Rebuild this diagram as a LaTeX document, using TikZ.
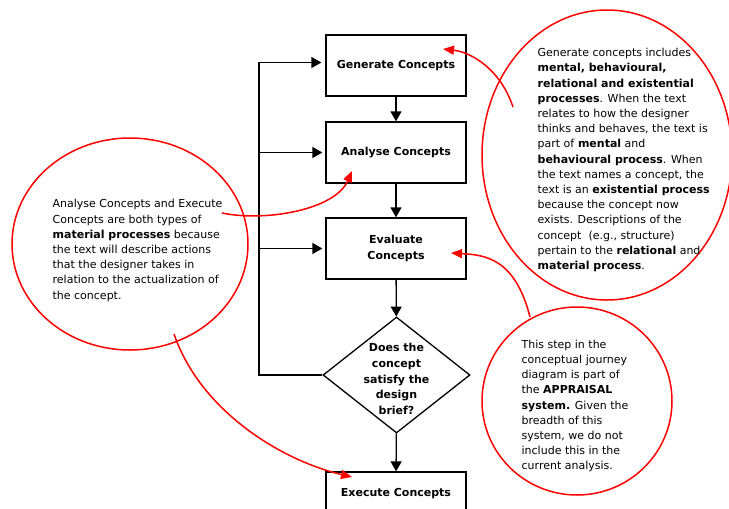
\documentclass[tikz,border=0pt]{standalone}
\usepackage{fontspec}
\setmainfont{DejaVu Sans}
\usetikzlibrary{shapes.geometric,arrows.meta}
\tikzset{
  stepbox/.style={draw, minimum width=140pt, minimum height=61pt, inner sep=0pt,
    align=center, font=\fontsize{11}{16}\selectfont\bfseries},
  note/.style={draw=red, line width=1.5pt, ellipse, inner sep=0pt},
  notetext/.style={align=left, inner sep=0pt, anchor=west,
    font=\fontsize{11}{15.2}\selectfont},
  pointer/.style={red, line width=1.5pt, -{Triangle[length=11pt,width=9pt]}},
}
\begin{document}
\begin{tikzpicture}[x=1pt, y=-1pt, >={Triangle[length=10pt,width=11pt]}, line width=1.3pt]
\useasboundingbox (0,0) rectangle (729,509);
\clip (0,0) rectangle (729,509);
% flow chart
\node[stepbox] (gen) at (396,65.5) {Generate Concepts};
\node[stepbox] (ana) at (396,152.5) {Analyse Concepts};
\node[stepbox] (eva) at (396,248.5) {Evaluate\\Concepts};
\node[draw, diamond, minimum width=147pt, minimum height=116pt, inner sep=0pt] (dec) at (396.5,375) {};
\node[align=center, inner sep=0pt, font=\fontsize{11}{15.6}\selectfont\bfseries] (dectext) at (396.5,379) {Does the\\concept\\satisfy the\\design\\brief?};
\node[stepbox, minimum height=44pt] (exe) at (396,494) {Execute Concepts};
\draw[->] (gen) -- (ana);
\draw[->] (ana) -- (eva);
\draw[->] (eva) -- (dec);
\draw[->] (dec) -- (exe);
% loop back
\coordinate (back) at (259,375);
\draw[->, shorten >=4pt] (dec.west) -- (back) |- ([yshift=3pt]gen.west);
\draw[->, shorten >=3pt] (back |- ana.west) -- (ana.west);
\draw[->, shorten >=3pt] (back |- eva.west) -- (eva.west);
% notes
\node[note, minimum width=236pt, minimum height=212pt] (noteL) at (130,244) {};
\node[notetext] (noteLtext) at (52,250.5) {Analyse Concepts and Execute\\
Concepts are both types of\\
\textbf{material processes} because\\
the text will describe actions\\
that the designer takes in\\
relation to the actualization of\\
the concept.};
\node[note, minimum width=250pt, minimum height=290pt] (noteR) at (607,155) {};
\node[notetext] (noteRtext) at (537,160) {Generate concepts includes\\
\textbf{mental, behavioural,}\\
\textbf{relational and existential}\\
\textbf{processes}. When the text\\
relates to how the designer\\
thinks and behaves, the text is\\
part of \textbf{mental} and\\
\textbf{behavioural process}. When\\
the text names a concept, the\\
text is an \textbf{existential process}\\
because the concept now\\
exists. Descriptions of the\\
concept\ \ (e.g., structure)\\
pertain to the \textbf{relational} and\\
\textbf{material process}.};
\node[note, minimum width=190pt, minimum height=188pt] (noteB) at (577,401) {};
\node[notetext] (noteBtext) at (521,406) {This step in the\\
conceptual journey\\
diagram is part of\\
the \textbf{APPRAISAL}\\
\textbf{system.} Given the\\
breadth of this\\
system, we do not\\
include this in the\\
current analysis.};
% pointers
\coordinate (pR) at (513,107);
\coordinate (pL1) at (222,213);
\coordinate (pB) at (530,317);
\coordinate (pL2) at (174,334);
\coordinate (tgen) at (443,49);
\coordinate (tana) at (352,171);
\coordinate (teva) at (451,253);
\coordinate (texe) at (352,477);
\draw[pointer] (pR) .. controls (500,68) and (470,52) .. (tgen);
\draw[pointer] (pL1) .. controls (265,222) and (335,210) .. (tana);
\draw[pointer] (pB) .. controls (515,258) and (485,255) .. (teva);
\draw[pointer] (pL2) .. controls (200,410) and (280,460) .. (texe);
\end{tikzpicture}
\end{document}
